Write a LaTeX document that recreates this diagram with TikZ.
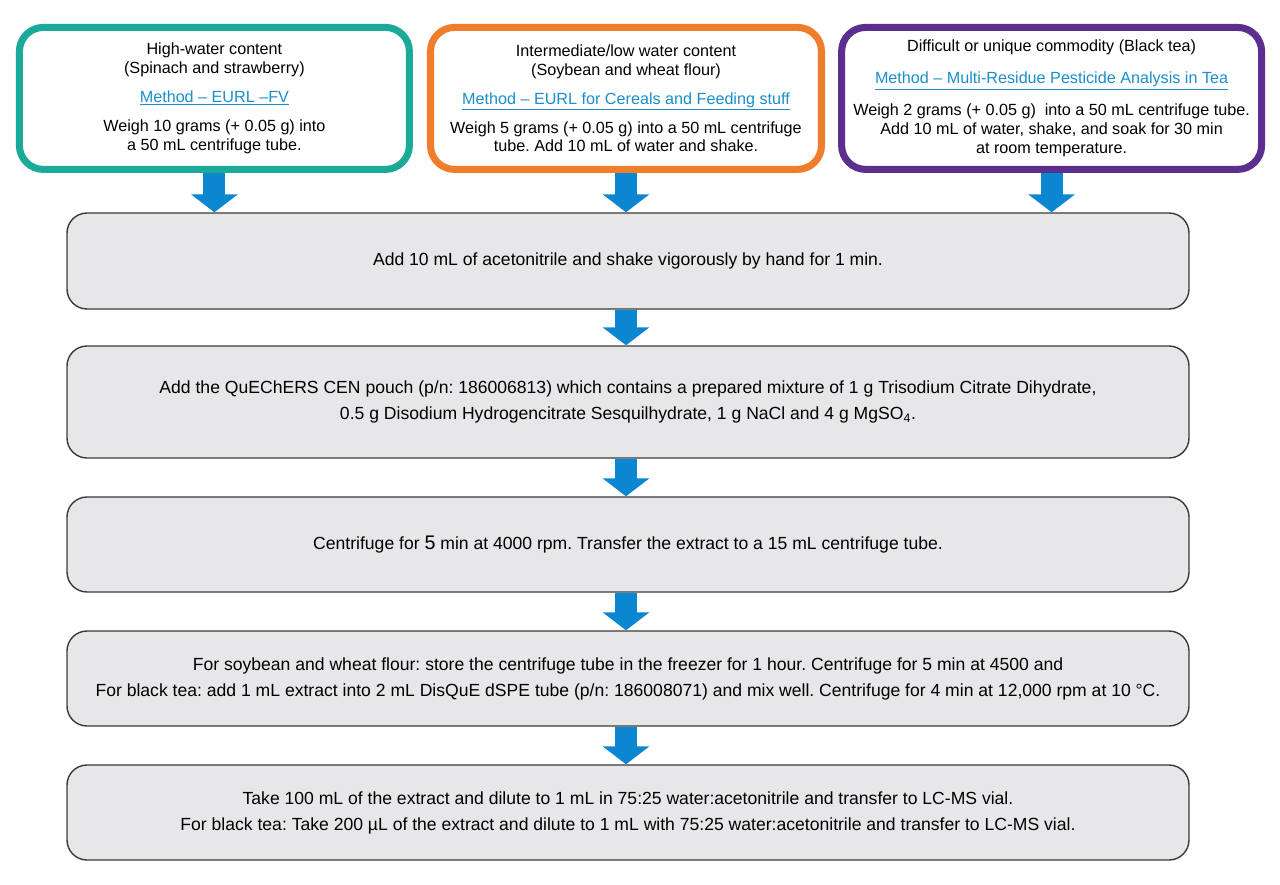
\documentclass[tikz,border=0pt]{standalone}
\usepackage{fontspec}
\setmainfont{Liberation Sans}
\usetikzlibrary{arrows.meta}

\definecolor{highcol}{HTML}{1BA99A}
\definecolor{lowcol}{HTML}{F07D2B}
\definecolor{teacol}{HTML}{5C2E8E}
\definecolor{arrowcol}{HTML}{0B86D0}
\definecolor{methodcol}{HTML}{1C8FCB}
\definecolor{stepfill}{HTML}{E7E7E9}
\definecolor{stepline}{HTML}{3A3A3A}

\newcommand{\method}[1]{{\color{methodcol}\underline{#1}}}
\frenchspacing

\tikzset{
  topbox/.style={draw, line width=5pt, rounded corners=0.6cm, fill=white,
    align=center, minimum height=3.55cm, outer sep=2.5pt,
    font=\fontsize{11.5}{13.5}\selectfont},
  stepbox/.style={draw=stepline, line width=1pt, rounded corners=0.5cm,
    fill=stepfill, align=center, minimum width=28.05cm, outer sep=0.5pt,
    font=\fontsize{12.5}{18.5}\selectfont},
  flowarrow/.style={draw=arrowcol, line width=15.6pt,
    -{Triangle[width=32.7pt, length=12.8pt]}, arrowcol}
}

\begin{document}
\begin{tikzpicture}
    \useasboundingbox (0,0) rectangle (32,-22.1);

    % sample types

    \node[topbox, draw=highcol, minimum width=9.75cm] (high) at (5.36,-2.46)
      {High-water content\\(Spinach and strawberry)\\[7pt]
       \method{Method – EURL –FV}\\[7pt]
       Weigh 10 grams (+ 0.05 g) into\\a 50 mL centrifuge tube.};
    \node[topbox, draw=lowcol, minimum width=9.775cm] (low) at (15.65,-2.46)
      {Intermediate/low water content\\(Soybean and wheat flour)\\[7pt]
       \method{Method – EURL for Cereals and Feeding stuff}\\[7pt]
       Weigh 5 grams (+ 0.05 g) into a 50 mL centrifuge\\tube. Add 10 mL of water and shake.};
    \node[topbox, draw=teacol, minimum width=10.5cm] (tea) at (26.29,-2.46)
      {Difficult or unique commodity (Black tea)\\[9pt]
       \method{Method – Multi-Residue Pesticide Analysis in Tea}\\[9pt]
       Weigh 2 grams (+ 0.05 g)~ into a 50 mL centrifuge tube.\\
       Add 10 mL of water, shake, and soak for 30 min\\at room temperature.};

    % common steps

    \node[stepbox, minimum height=2.4cm] (acn) at (15.7,-6.525)
      {Add 10 mL of acetonitrile and shake vigorously by hand for 1 min.};
    \node[stepbox, minimum height=2.8cm] (salt) at (15.7,-10.05)
      {Add the QuEChERS CEN pouch (p/n: 186006813) which contains a prepared mixture of 1 g Trisodium Citrate Dihydrate,\\
       0.5 g Disodium Hydrogencitrate Sesquilhydrate, 1 g NaCl and 4 g MgSO\textsubscript{4}.};
    \node[stepbox, minimum height=2.375cm] (spin) at (15.7,-13.6125)
      {Centrifuge for {\fontsize{14}{18.5}\selectfont 5} min at 4000 rpm. Transfer the extract to a 15 mL centrifuge tube.};
    \node[stepbox, minimum height=2.375cm] (clean) at (15.7,-16.9625)
      {For soybean and wheat flour: store the centrifuge tube in the freezer for 1 hour. Centrifuge for 5 min at 4500 and\\
       For black tea: add 1 mL extract into 2 mL DisQuE dSPE tube (p/n: 186008071) and mix well. Centrifuge for 4 min at 12,000 rpm at 10 °C.};
    \node[stepbox, minimum height=2.375cm] (dilute) at (15.7,-20.3125)
      {Take 100 mL of the extract and dilute to 1 mL in 75:25 water:acetonitrile and transfer to LC-MS vial.\\
       For black tea: Take 200 µL of the extract and dilute to 1 mL with 75:25 water:acetonitrile and transfer to LC-MS vial.};

    % arrows

    \draw[flowarrow] (high.south) -- (high.south |- acn.north);
    \draw[flowarrow] (low.south) -- (low.south |- acn.north);
    \draw[flowarrow] (tea.south) -- (tea.south |- acn.north);
    \draw[flowarrow] (low.south |- acn.south) -- (low.south |- salt.north);
    \draw[flowarrow] (low.south |- salt.south) -- (low.south |- spin.north);
    \draw[flowarrow] (low.south |- spin.south) -- (low.south |- clean.north);
    \draw[flowarrow] (low.south |- clean.south) -- (low.south |- dilute.north);

\end{tikzpicture}
\end{document}
